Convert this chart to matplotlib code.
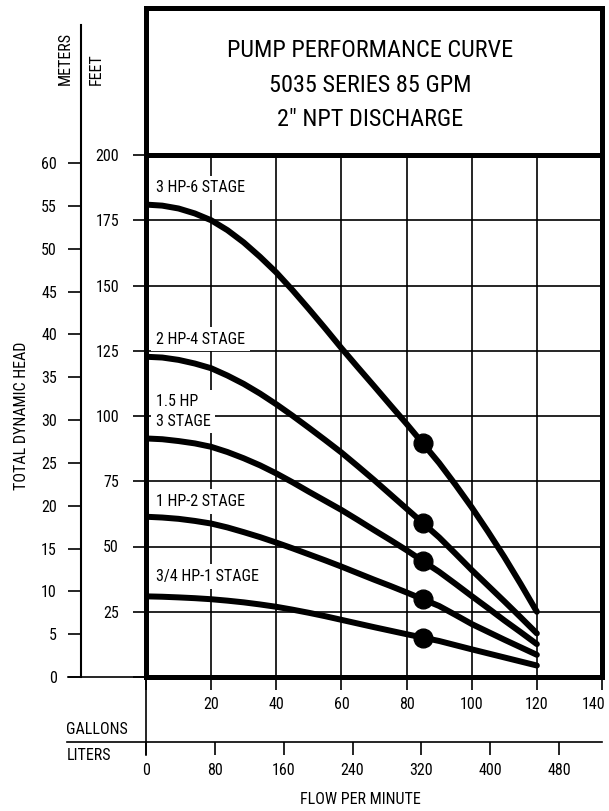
import matplotlib
matplotlib.use('Agg')
import matplotlib.pyplot as plt
from matplotlib import font_manager
from matplotlib.lines import Line2D
from matplotlib.transforms import ScaledTranslation

# ── font: pick a narrow sans if present ─────────────────────────────────────
_names = {f.name for f in font_manager.fontManager.ttflist}
FONT = next((f for f in ['Liberation Sans Narrow', 'Roboto Condensed',
                         'Open Sans Condensed', 'Liberation Sans', 'DejaVu Sans']
             if f in _names), 'DejaVu Sans')
plt.rcParams['font.family'] = [FONT, 'DejaVu Sans']

# ── data ────────────────────────────────────────────────────────────────────
gpm = [0, 5, 10, 15, 20, 25, 30, 35, 40, 45, 50, 55, 60,
       65, 70, 75, 80, 85, 90, 95, 100, 105, 110, 115, 120]

head_3hp_6 = [181, 180.6, 179.5, 177.6, 175, 171.2, 166.5, 161, 155, 148.2, 141, 133.6, 126,
              118.7, 111.5, 104.2, 97, 89.5, 82, 73.7, 65, 55.7, 46, 35.7, 25]
head_2hp_4 = [122.7, 122.4, 121.5, 120.1, 118.3, 115.5, 112.3, 108.6, 104.5, 100.1, 95.5, 90.8, 86,
              80.8, 75.5, 70, 64.5, 59, 53.5, 47.3, 41, 35, 29, 22.9, 16.7]
head_15hp_3 = [91.4, 91.1, 90.4, 89.5, 88.2, 86.2, 83.8, 81.1, 78, 74.6, 71, 67.5, 64,
               60.2, 56.3, 52.5, 48.6, 44.4, 40.3, 35.7, 31, 26.4, 21.7, 17.2, 12.6]
head_1hp_2 = [61.4, 61.1, 60.6, 59.8, 58.8, 57.3, 55.5, 53.6, 51.5, 49.3, 47, 44.7, 42.3,
              39.8, 37.3, 34.9, 32.4, 29.8, 27.2, 23.8, 20.3, 17.3, 14.3, 11.4, 8.5]
head_34hp_1 = [30.9, 30.75, 30.5, 30.2, 29.8, 29.25, 28.6, 27.8, 26.9, 25.8, 24.6, 23.3, 21.9,
               20.5, 19.1, 17.75, 16.4, 15.1, 13.8, 12.2, 10.6, 9.05, 7.5, 5.95, 4.4]

curves = [head_3hp_6, head_2hp_4, head_15hp_3, head_1hp_2, head_34hp_1]
curve_labels = ['3 HP-6 STAGE', '2 HP-4 STAGE', '1.5 HP\n3 STAGE',
                '1 HP-2 STAGE', '3/4 HP-1 STAGE']
label_head = [187.4, 129.5, 101.7, 67.2, 38.4]
RATED_GPM = 85

feet_ticks = [0, 25, 50, 75, 100, 125, 150, 175, 200]
meter_ticks = [0, 5, 10, 15, 20, 25, 30, 35, 40, 45, 50, 55, 60]
gal_ticks = [0, 20, 40, 60, 80, 100, 120, 140]
liter_ticks = [0, 80, 160, 240, 320, 400, 480]

FT_PER_M = 3.28084
L_PER_GAL = 3.785

# ── layout helpers (pixel -> figure fraction) ───────────────────────────────
W, H = 609, 811
def fx(px): return px / W
def fy(py): return 1 - py / H

X0, X1 = 146, 602      # plot frame left/right
Y0, Y200 = 677, 155    # 0 ft / 200 ft
YTOP = 8               # top of title box
FRAME_LW = 3.6
THIN = 1.2
TICK_LEN = 9.4
FS = 11.5

fig = plt.figure(figsize=(W / 100, H / 100), dpi=100)

# ── main plot ───────────────────────────────────────────────────────────────
ax = fig.add_axes([fx(X0), fy(Y0), fx(X1) - fx(X0), fy(Y200) - fy(Y0)])
ax.set_xlim(0, 140)
ax.set_ylim(0, 200)
ax.set_xticks(gal_ticks)
ax.set_xticklabels(['' if v == 0 else str(v) for v in gal_ticks])
ax.set_yticks(feet_ticks)
ax.set_yticklabels(['' if v == 0 else str(v) for v in feet_ticks])
ax.tick_params(axis='y', direction='out', length=TICK_LEN, width=THIN,
               pad=10, labelsize=FS)
ax.tick_params(axis='x', direction='out', length=TICK_LEN, width=THIN,
               pad=5, labelsize=FS)
# last gallon label sits a little left of its tick, as in the reference
last = ax.get_xticklabels()[-1]
last.set_transform(last.get_transform() +
                   ScaledTranslation(-8 / 100, 0, fig.dpi_scale_trans))
ax.grid(True, color='black', lw=THIN, zorder=1)
for sp in ax.spines.values():
    sp.set_linewidth(FRAME_LW)
    sp.set_zorder(5)

for head, lab, ly in zip(curves, curve_labels, label_head):
    ax.plot(gpm, head, color='black', lw=4.3, solid_capstyle='round',
            solid_joinstyle='round', zorder=3)
    i = gpm.index(RATED_GPM)
    ax.plot(gpm[i], head[i], 'o', color='black', ms=13.5, zorder=4)
    ax.text(3, ly, lab, ha='left', va='center', fontsize=FS, linespacing=1.35,
            zorder=2.5,
            bbox=dict(boxstyle='square,pad=0.3', fc='white', ec='none'))

# ── title box ───────────────────────────────────────────────────────────────
ax_t = fig.add_axes([fx(X0), fy(Y200), fx(X1) - fx(X0), fy(YTOP) - fy(Y200)])
ax_t.set_xticks([])
ax_t.set_yticks([])
for sp in ax_t.spines.values():
    sp.set_linewidth(FRAME_LW)
title_lines = ['PUMP PERFORMANCE CURVE', '5035 SERIES 85 GPM', '2" NPT DISCHARGE']
for line, py in zip(title_lines, [50.5, 85, 119]):
    ax_t.text((370 - X0) / (X1 - X0), (Y200 - py) / (Y200 - YTOP), line,
              transform=ax_t.transAxes, ha='center', va='center', fontsize=17.5)

# ── meters axis ─────────────────────────────────────────────────────────────
MY_TOP = 25
px_per_ft = (Y0 - Y200) / 200.0
ax_m = fig.add_axes([fx(81), fy(Y0), 0.0005, fy(MY_TOP) - fy(Y0)])
ax_m.set_ylim(0, (Y0 - MY_TOP) / (px_per_ft * FT_PER_M))
ax_m.set_yticks(meter_ticks)
ax_m.set_xticks([])
ax_m.tick_params(axis='y', direction='out', length=TICK_LEN, width=THIN,
                 pad=8, labelsize=FS)
for name, sp in ax_m.spines.items():
    sp.set_visible(name == 'left')
ax_m.spines['left'].set_linewidth(1.5)
ax_m.patch.set_visible(False)

# ── liters axis ─────────────────────────────────────────────────────────────
YL = 742
ax_l = fig.add_axes([fx(X0), fy(YL), fx(X1) - fx(X0), 0.0005])
ax_l.set_xlim(0, 140 * L_PER_GAL)
ax_l.set_xticks(liter_ticks)
ax_l.set_yticks([])
ax_l.tick_params(axis='x', direction='out', length=TICK_LEN, width=THIN,
                 pad=6, labelsize=FS)
for sp in ax_l.spines.values():
    sp.set_visible(False)
ax_l.patch.set_visible(False)

# ── connecting rules ────────────────────────────────────────────────────────
for (xa, xb, ya, yb) in [(68, X0, Y0, Y0), (X0, X0, Y0, 755), (67, X1, YL, YL)]:
    fig.add_artist(Line2D([fx(xa), fx(xb)], [fy(ya), fy(yb)], color='black',
                          lw=THIN, transform=fig.transFigure))

# ── axis captions ───────────────────────────────────────────────────────────
fig.text(fx(65), fy(85), 'METERS', rotation=90, ha='center', va='bottom', fontsize=FS)
fig.text(fx(96), fy(85), 'FEET', rotation=90, ha='center', va='bottom', fontsize=FS)
fig.text(fx(22), fy(416), 'TOTAL DYNAMIC HEAD', rotation=90, ha='center',
         va='center', fontsize=FS)
fig.text(fx(66), fy(730), 'GALLONS', ha='left', va='center', fontsize=FS)
fig.text(fx(67), fy(756), 'LITERS', ha='left', va='center', fontsize=FS)
fig.text(fx(360), fy(800), 'FLOW PER MINUTE', ha='center', va='center', fontsize=FS)

fig.savefig('out.png', dpi=100)
plt.close(fig)
